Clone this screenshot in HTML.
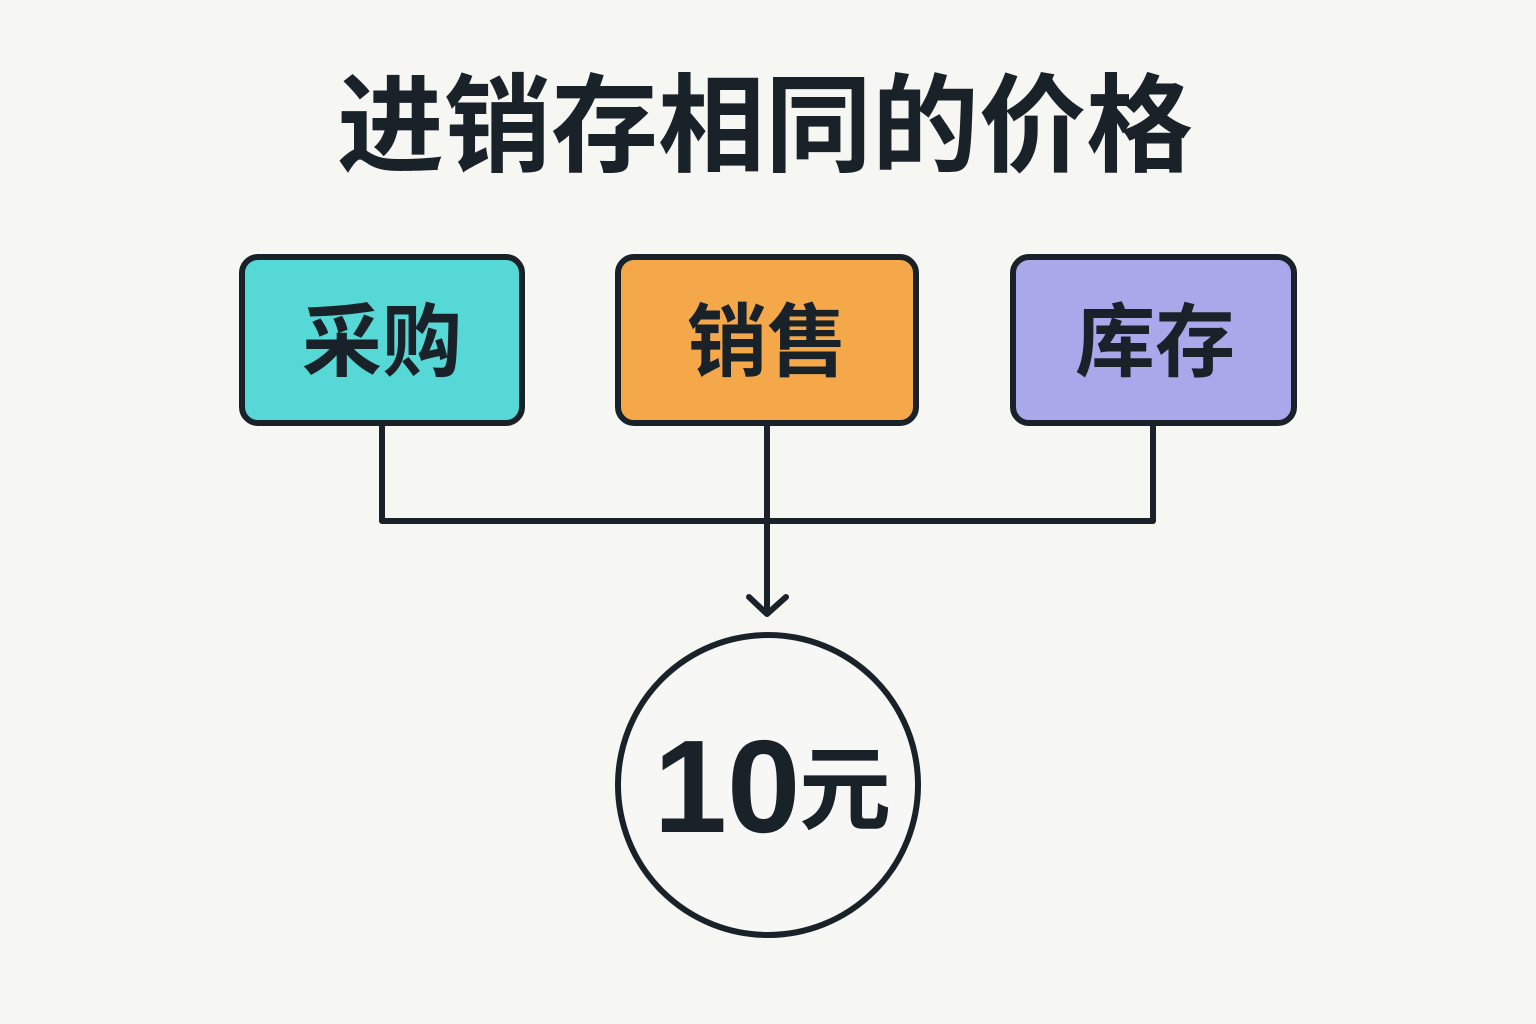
<!DOCTYPE html>
<html><head><meta charset="utf-8"><style>
body{margin:0;width:1536px;height:1024px;background:#f6f6f3;overflow:hidden;}
svg{display:block}
</style></head><body>
<svg width="1536" height="1024" viewBox="0 0 1536 1024" xmlns="http://www.w3.org/2000/svg">
<g font-family="'Liberation Sans','Noto Sans CJK SC',sans-serif" font-weight="bold" fill="#1a2229" text-anchor="middle">
<text x="765" y="163" font-size="107">进销存相同的价格</text>
<rect x="242" y="257" width="280" height="166" rx="16" fill="#56d8d6" stroke="#1a2229" stroke-width="6"/>
<rect x="618" y="257" width="298" height="166" rx="16" fill="#f5a84a" stroke="#1a2229" stroke-width="6"/>
<rect x="1013" y="257" width="281" height="166" rx="16" fill="#a9a8ea" stroke="#1a2229" stroke-width="6"/>
<text x="382" y="370" font-size="80">采购</text>
<text x="767" y="370" font-size="80">销售</text>
<text x="1155" y="370" font-size="80">库存</text>
<g stroke="#1a2229" stroke-width="6" fill="none" stroke-linecap="round" stroke-linejoin="round">
<path d="M382 426 V521 H1153 V426"/>
<path d="M767 426 V612"/>
<path d="M749 597 L767 614 L786 597"/>
<circle cx="768" cy="785" r="150" fill="#f7f7f5"/>
</g>
<text x="727" y="832" font-size="132" font-family="'Liberation Sans',sans-serif">10</text>
<text x="845" y="822" font-size="92" font-family="'Noto Sans CJK SC',sans-serif">元</text>
</g>
</svg>
</body></html>
